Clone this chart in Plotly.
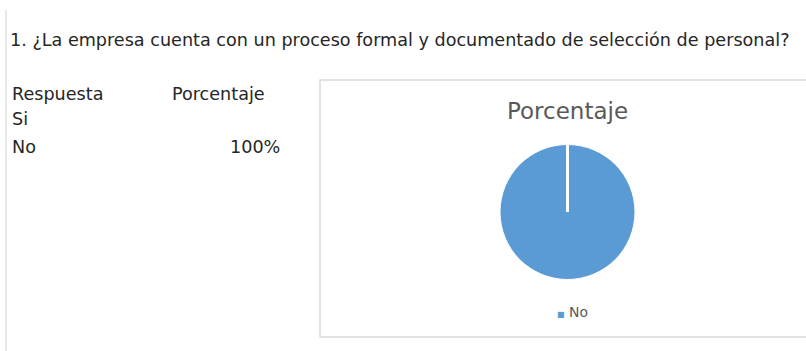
import plotly.graph_objects as go

# ---- data ----
pregunta = "1. ¿La empresa cuenta con un proceso formal y documentado de selección de personal?"
encabezados = ["Respuesta", "Porcentaje"]
respuestas = ["Si", "No"]
porcentajes = [None, 100]
titulo_grafico = "Porcentaje"

# ---- style ----
W, H = 806, 351
BLUE = "#5B9BD5"
CELL_FONT = "DejaVu Sans"
CELL_SIZE = 17.6
CELL_COLOR = "#262626"

def px_x(x):
    return x / W

def px_y(y):
    return 1 - y / H

# pie geometry (pixels)
cx, cy, r = 567.5, 212, 67.5

valores = [v if v is not None else 0 for v in porcentajes]

fig = go.Figure(
    go.Pie(
        labels=respuestas,
        values=valores,
        sort=False,
        direction="clockwise",
        rotation=0,
        textinfo="none",
        hoverinfo="label+percent",
        marker=dict(colors=["#ED7D31", BLUE], line=dict(color="white", width=1)),
        domain=dict(x=[px_x(cx - r), px_x(cx + r)], y=[px_y(cy + r), px_y(cy - r)]),
        showlegend=False,
    )
)

annotations = []

def cell(text, x, y, anchor="left", size=CELL_SIZE, color=CELL_COLOR, font=CELL_FONT):
    annotations.append(
        dict(
            text=text, x=px_x(x), y=px_y(y), xref="paper", yref="paper",
            xanchor=anchor, yanchor="middle", showarrow=False,
            font=dict(family=font, size=size, color=color),
        )
    )

# question row
cell(pregunta, 8, 40)
# table
cell(encabezados[0], 10, 94)
cell(encabezados[1], 170, 94)
row_y = [119, 147]
for lab, val, yy in zip(respuestas, porcentajes, row_y):
    cell(lab, 10, yy)
    if val is not None:
        cell(f"{val}%", 282, yy, anchor="right")

# chart title
cell(titulo_grafico, cx, 111, anchor="center", size=23, color="#595959")

# legend (only the non-empty category, like the reference)
for lab, val in zip(respuestas, porcentajes):
    if val:
        cell(f'<span style="color:{BLUE};font-size:8px">■</span> {lab}', cx + 5, 312,
             anchor="center", size=14, color="#595959")

# slice seam: the empty "Si" slice boundary at 12 o'clock (rotation=0)
seam_y0 = cy - r - 3
shapes = [
    # chart area frame
    dict(type="rect", xref="paper", yref="paper",
         x0=px_x(320), x1=px_x(812), y0=px_y(337), y1=px_y(80),
         line=dict(color="#d9d9d9", width=1.5), fillcolor="rgba(0,0,0,0)", layer="below"),
    # sheet border line on the left
    dict(type="line", xref="paper", yref="paper",
         x0=px_x(6), x1=px_x(6), y0=0, y1=px_y(10),
         line=dict(color="#cfcfcf", width=1)),
    dict(type="line", xref="paper", yref="paper",
         x0=px_x(cx), x1=px_x(cx), y0=px_y(cy), y1=px_y(seam_y0),
         line=dict(color="white", width=3)),
]

fig.update_layout(
    width=W, height=H,
    margin=dict(l=0, r=0, t=0, b=0),
    paper_bgcolor="white",
    plot_bgcolor="white",
    annotations=annotations,
    shapes=shapes,
)

fig.write_html("out.html")
